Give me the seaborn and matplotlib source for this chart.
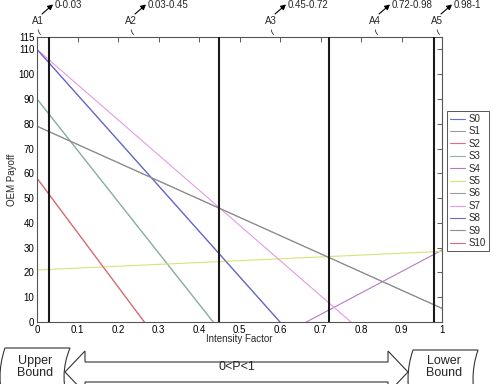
import numpy as np
import pandas as pd
import matplotlib
matplotlib.use("Agg")
import matplotlib.pyplot as plt
from matplotlib.path import Path
from matplotlib.patches import PathPatch, Polygon, FancyArrowPatch
import seaborn as sns

# ---------------- data ----------------
series = ["S0", "S1", "S2", "S3", "S4", "S5", "S6", "S7", "S8", "S9", "S10"]
x_start = [0.0, 0.0, 0.0, 0.0, 0.665, 0.0, 0.0, 0.0, 0.0, 0.0, 0.0]
y_start = [110, 90, 58, 90, 0, 21, 79, 110, 110, 79, 58]
x_end = [0.6, 0.435, 0.265, 0.435, 1.0, 1.0, 1.0, 0.775, 0.6, 1.0, 0.265]
y_end = [0, 0, 0, 0, 29, 28.5, 5.5, 0, 0, 5.5, 0]
colors = ["#6b6bd6", "#9a9a9a", "#e07080", "#86b8a4", "#b47ac4", "#d9e27a",
          "#9a9a9a", "#e39be3", "#6a6acb", "#8e8e8e", "#d87070"]

boundaries = [0.03, 0.45, 0.72, 0.98]
region_labels = ["A1", "A2", "A3", "A4", "A5"]
region_ranges = ["0-0.03", "0.03-0.45", "0.45-0.72", "0.72-0.98", "0.98-1"]
x_ticks = [0, 0.1, 0.2, 0.3, 0.4, 0.5, 0.6, 0.7, 0.8, 0.9, 1]
y_ticks = [0, 10, 20, 30, 40, 50, 60, 70, 80, 90, 100, 110, 115]
x_label = "Intensity Factor"
y_label = "OEM Payoff"
left_box = "Upper\nBound"
right_box = "Lower\nBound"
arrow_text = "0<P<1"

# ---------------- style ----------------
sns.set_style("white")
plt.rcParams["font.family"] = ["Liberation Sans", "DejaVu Sans"]

rows = []
for s, xs, ys, xe, ye in zip(series, x_start, y_start, x_end, y_end):
    rows.append({"series": s, "x": xs, "y": ys})
    rows.append({"series": s, "x": xe, "y": ye})
df = pd.DataFrame(rows)

W, H = 494, 384
fig = plt.figure(figsize=(W / 100, H / 100), dpi=100)
ax = fig.add_axes([37 / W, 1 - 322 / H, 405 / W, 285 / H])

sns.lineplot(data=df, x="x", y="y", hue="series", hue_order=series,
             palette=dict(zip(series, colors)), estimator=None, sort=False,
             linewidth=0.8, ax=ax, legend=True)

for b in boundaries:
    ax.axvline(b, color="#1a1a1a", linewidth=1.5, zorder=5)

ax.set_xlim(0, 1)
ax.set_ylim(0, 115)
ax.set_xticks(x_ticks)
ax.set_xticklabels([f"{t:g}" for t in x_ticks])
ax.set_yticks(y_ticks)
ax.tick_params(direction="in", length=3.5, width=0.6, labelsize=7, pad=2,
               top=True, right=True, colors="#444444", labelcolor="black")
for sp in ax.spines.values():
    sp.set_color("#555555")
    sp.set_linewidth(0.8)
ax.set_xlabel(x_label, fontsize=7)
ax.set_ylabel(y_label, fontsize=7)
ax.xaxis.set_label_coords(0.5, -0.042)
ax.yaxis.set_label_coords(-0.049, 0.5)

h, l = ax.get_legend_handles_labels()
leg = ax.legend(h, l, loc="upper left", bbox_to_anchor=(447 / W, 1 - 111 / H),
                bbox_transform=fig.transFigure, fontsize=7, frameon=True,
                fancybox=False, framealpha=1, edgecolor="#555555",
                handlelength=1.5, handletextpad=0.4, labelspacing=0.25,
                borderpad=0.3, borderaxespad=0)
leg.get_frame().set_linewidth(0.7)
for line in leg.get_lines():
    line.set_linewidth(0.8)

# ---------------- overlay (pixel coordinates) ----------------
ov = fig.add_axes([0, 0, 1, 1], zorder=10)
ov.set_xlim(0, W)
ov.set_ylim(H, 0)
ov.axis("off")
ov.patch.set_alpha(0)

label_x = [38, 131, 271, 375, 437]
for lx, lab, rng in zip(label_x, region_labels, region_ranges):
    ov.text(lx, 21, lab, ha="center", va="center", fontsize=7)
    ov.add_patch(FancyArrowPatch((lx + 0.5, 27), (lx + 5, 36),
                                 connectionstyle="arc3,rad=0.4",
                                 arrowstyle="-", color="#333333", lw=0.6))
    ov.add_patch(FancyArrowPatch((lx + 4, 14), (lx + 15, 4.5),
                                 arrowstyle="-|>,head_length=3,head_width=1.6",
                                 color="black", lw=0.8,
                                 shrinkA=0, shrinkB=0))
    ov.text(lx + 16.5, 5, rng, ha="left", va="center", fontsize=7)


def scroll(x0, x1, top, bot, bulge_l, bulge_r):
    mid = (top + bot) / 2
    verts = [(x0, top), (x1, top),
             (2 * bulge_r - x1, mid), (x1, bot),
             (x0, bot),
             (2 * bulge_l - x0, mid), (x0, top),
             (x0, top)]
    codes = [Path.MOVETO, Path.LINETO, Path.CURVE3, Path.CURVE3,
             Path.LINETO, Path.CURVE3, Path.CURVE3, Path.CLOSEPOLY]
    return PathPatch(Path(verts, codes), facecolor="white",
                     edgecolor="#333333", lw=0.8)


ov.add_patch(scroll(5, 70, 348, 406, 0, 64))
ov.add_patch(scroll(413, 478, 350, 408, 408, 473))

cy = 372
arrow_poly = [(65, cy), (85, cy - 21), (85, cy - 10), (388, cy - 10),
              (388, cy - 21), (408, cy), (388, cy + 21), (388, cy + 10),
              (85, cy + 10), (85, cy + 21)]
ov.add_patch(Polygon(arrow_poly, closed=True, facecolor="white",
                     edgecolor="#333333", lw=0.8))

ov.text(237, 367, arrow_text, ha="center", va="center", fontsize=9)
ov.text(35, 367, left_box, ha="center", va="center", fontsize=9,
        linespacing=1.05)
ov.text(444, 367, right_box, ha="center", va="center", fontsize=9,
        linespacing=1.05)

fig.savefig("out.png", dpi=100, facecolor="white")
